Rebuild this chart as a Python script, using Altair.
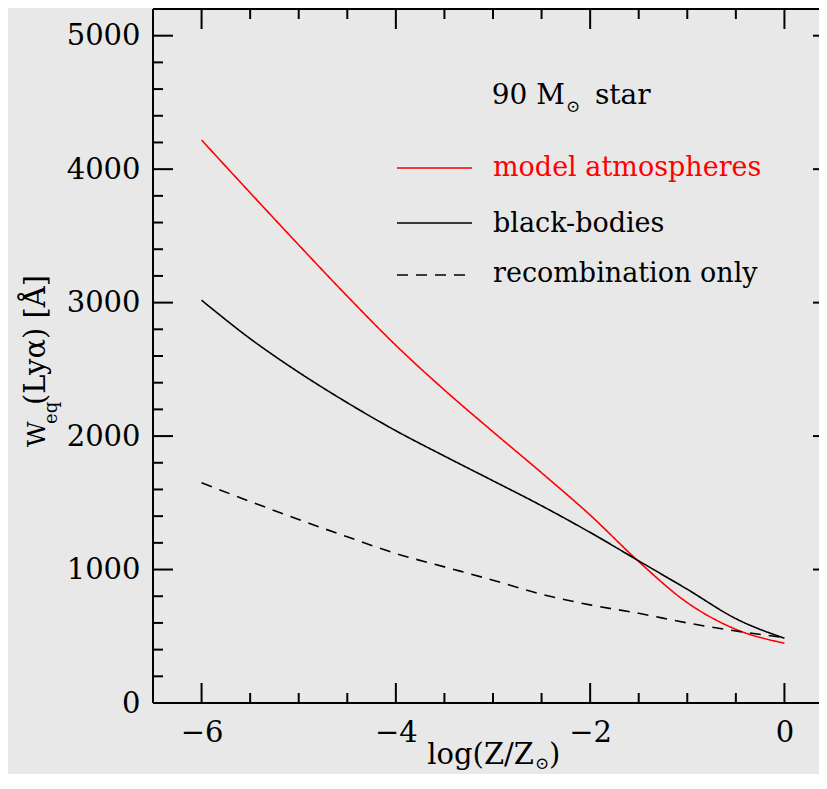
import altair as alt
import pandas as pd

# ---------------- data ----------------
log_z = [-6.0, -5.5, -5.0, -4.5, -4.0, -3.5, -3.0, -2.5, -2.0, -1.5, -1.0, -0.5, 0.0]
w_model = [4218, 3823, 3432, 3048, 2680, 2345, 2032, 1725, 1408, 1060, 752, 552, 448]
w_bb = [3018, 2730, 2478, 2250, 2040, 1850, 1665, 1478, 1278, 1065, 852, 632, 485]
w_rec = [1650, 1510, 1375, 1245, 1120, 1020, 920, 815, 735, 672, 600, 540, 490]
series_names = ["model atmospheres", "black-bodies", "recombination only"]
series_colors = ["#ff0000", "#000000", "#000000"]

x_major = [-6, -4, -2, 0]
x_minor = [-5.5, -5, -4.5, -3.5, -3, -2.5, -1.5, -1, -0.5, 0.5]
y_major = [0, 1000, 2000, 3000, 4000, 5000]
y_minor = [200, 400, 600, 800, 1200, 1400, 1600, 1800, 2200, 2400, 2600, 2800,
           3200, 3400, 3600, 3800, 4200, 4400, 4600, 4800]

title_text = ["90 M", "\u2299", "star"]
xtitle_text = ["log(Z/Z", "\u2299", ")"]
ytitle_text = ["W", "eq", "(Ly\u03b1) [\u00c5]"]

# ---------------- layout ----------------
FONT = "DejaVu Serif"
X0, XFRAME = -6.5, 0.5          # full frame of the original plot
YMAX = 5200
PAD_L, PAD_T, PAD_B = 145, 1, 71
H = 694
XPX = 680 / (XFRAME - X0)       # px per x unit
W = 811 - PAD_L                 # visible part of the plot (the frame runs past the page edge)
XVIS = X0 + W / XPX
YPX = H / YMAX                  # px per y unit
LEFT, BOTTOM = 8 + PAD_L, 8 + PAD_T + H


def px2x(px):
    return X0 + (px - LEFT) / XPX


def px2y(py):
    return (BOTTOM - py) / YPX


xscale = alt.Scale(domain=[X0, XVIS], nice=False, zero=False)
yscale = alt.Scale(domain=[0, YMAX], nice=False, zero=False)
x_axis = alt.Axis(values=x_major, format="d", ticks=False, tickSize=0, domain=False,
                  grid=False, labelFont=FONT, labelFontSize=29, labelColor="black",
                  labelPadding=15, labelFlush=False, labelOverlap=False, title=None)
y_axis = alt.Axis(values=y_major, format="d", ticks=False, tickSize=0, domain=False,
                  grid=False, labelFont=FONT, labelFontSize=29, labelColor="black",
                  labelPadding=13, labelFlush=False, labelOverlap=False, title=None)


def X(f):
    return alt.X(f"{f}:Q", scale=xscale, axis=x_axis)


def Y(f):
    return alt.Y(f"{f}:Q", scale=yscale, axis=y_axis)


# ---------------- frame and inward ticks ----------------
maj_x, min_x = 20 / XPX, 10 / XPX
maj_y, min_y = 20 / YPX, 10 / YPX
rows = []
for t in x_major:
    rows += [(t, t, 0, maj_y), (t, t, YMAX, YMAX - maj_y)]
for t in x_minor:
    rows += [(t, t, 0, min_y), (t, t, YMAX, YMAX - min_y)]
for t in y_major:
    rows += [(X0, X0 + maj_x, t, t), (XFRAME, XFRAME - maj_x, t, t)]
for t in y_minor:
    rows += [(X0, X0 + min_x, t, t), (XFRAME, XFRAME - min_x, t, t)]
rows += [(X0, XFRAME, 0, 0), (X0, XFRAME, YMAX, YMAX), (X0, X0, 0, YMAX)]
ticks_df = pd.DataFrame(rows, columns=["x", "x2", "y", "y2"])

ticks = alt.Chart(ticks_df).mark_rule(color="black", strokeWidth=2).encode(
    x=X("x"), x2="x2:Q", y=Y("y"), y2="y2:Q")

# ---------------- curves ----------------
curve_df = pd.concat([
    pd.DataFrame({"logz": log_z, "w": vals, "series": name})
    for name, vals in zip(series_names, [w_model, w_bb, w_rec])
])
color_enc = alt.Color("series:N", scale=alt.Scale(domain=series_names, range=series_colors),
                      legend=None)
dash_enc = alt.StrokeDash("series:N", scale=alt.Scale(domain=series_names,
                                                      range=[[1, 0], [1, 0], [11, 8]]),
                          legend=None)

curves = alt.Chart(curve_df).mark_line(strokeWidth=1.6, interpolate="monotone").encode(
    x=X("logz"), y=Y("w"), color=color_enc, strokeDash=dash_enc, detail="series:N")

# ---------------- in-plot legend ----------------
leg_df = pd.DataFrame({
    "series": series_names,
    "x": [px2x(397)] * 3,
    "x2": [px2x(472)] * 3,
    "y": [px2y(168), px2y(223), px2y(275)],
})
leg_lines = alt.Chart(leg_df).mark_rule(strokeWidth=1.6).encode(
    x=X("x"), x2="x2:Q", y=Y("y"), color=color_enc, strokeDash=dash_enc)


def label(text, px, py, size, color="black", align="left", angle=0):
    df = pd.DataFrame({"x": [px2x(px)], "y": [px2y(py)], "t": [text]})
    return alt.Chart(df).mark_text(font=FONT, fontSize=size, color=color, align=align,
                                   baseline="alphabetic", angle=angle).encode(
        x=X("x"), y=Y("y"), text="t:N")


texts = [
    label(title_text[0], 565, 104, 28, align="right"),
    label(title_text[1], 573, 112, 17, align="center"),
    label(title_text[2], 595, 104, 28),
    label(series_names[0], 493, 176, 27, color="#ff0000"),
    label(series_names[1], 493, 232, 27),
    label(series_names[2], 493, 282, 27),
    # x title
    label(xtitle_text[0], 534, 764, 29, align="right"),
    label(xtitle_text[1], 542, 769, 17, align="center"),
    label(xtitle_text[2], 549, 764, 29),
    # y title (rotated)
    label(ytitle_text[0], 45, 447, 25, angle=270),
    label(ytitle_text[1], 57, 424, 18, angle=270),
    label(ytitle_text[2], 45, 405, 29, angle=270),
]

chart = alt.layer(ticks, curves, leg_lines, *texts).properties(
    width=W, height=H,
    background="#e8e8e8",
    autosize=alt.AutoSizeParams(type="none"),
    padding={"left": PAD_L, "top": PAD_T, "right": 0, "bottom": PAD_B},
).configure_view(stroke=None)

chart.save("out.html", embed_options={"renderer": "svg", "actions": False})
